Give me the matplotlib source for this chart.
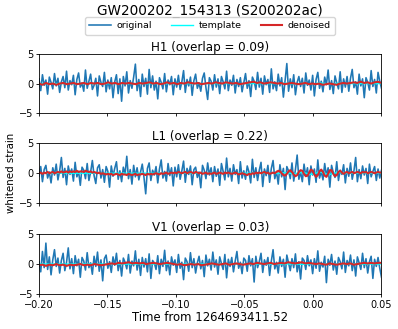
import numpy as np
import matplotlib.pyplot as plt

# ---------------------------------------------------------------------
# data (whitened strain, time from GPS 1264693411.52)
# ---------------------------------------------------------------------
T_START, T_END = -0.20, 0.05
GPS_REF = "1264693411.52"
EVENT = "GW200202_154313 (S200202ac)"
detectors = ["H1", "L1", "V1"]
overlaps = [0.09, 0.22, 0.03]

h1_original = [
    0.8, -1.2, 1.5, -0.3, 0.6, -1.8, 1.1, 0.2, -0.9, 1.7, -0.4, 0.9, -1.5, 0.3, 1.2, -0.7, 2.1, -1.1, 0.5, -0.2,
    1.4, -1.9, 0.7, 1.8, -0.6, 0.1, -1.3, 2.3, -0.8, 0.4, 1.6, -1.0, -0.3, 0.9, -2.1, 1.3, 0.2, -0.5, 1.9, -1.4,
    0.6, -0.9, 1.0, -2.4, 0.3, 1.5, -1.7, 0.8, -3.0, 1.2, -0.4, 2.0, -1.6, 0.5, -0.8, 1.1, 3.3, -1.2, 0.7, -2.2,
    1.6, -0.5, 0.9, -1.8, 2.4, -0.7, 1.3, -1.1, 0.4, -2.6, 1.0, 0.2, -0.9, 1.7, -1.4, 0.6, -0.2, 1.2, -1.9, 0.8,
    -0.6, 1.4, -1.0, 0.3, 2.2, -1.5, 0.7, -0.4, 1.1, -2.0, 0.5, 1.6, -0.8, 0.1, -1.3, 0.9, 1.8, -0.7, -2.7, 1.0,
    0.4, -1.1, 1.5, -0.6, 0.8, -1.7, 1.2, 0.3, -0.9, 2.1, -1.2, 0.6, -0.3, 1.4, -1.6, 0.7, -0.5, 1.0, -1.4, 0.2,
    1.7, -0.8, 0.5, -2.2, 1.1, 0.4, -1.0, 1.9, -0.6, 0.9, -1.8, 1.3, -0.2, 0.7, -1.5, 2.5, -0.9, 0.3, -1.2, 1.6,
    -0.4, 1.0, -2.3, 0.6, 3.4, -1.3, 0.8, -0.7, 1.5, -1.9, 0.2, 1.2, -0.5, 0.9, -1.6, 1.8, -0.3, 0.6, -1.1, 1.4,
    -2.1, 0.7, 1.9, -0.8, 0.4, -1.4, 1.1, -0.2, 2.3, -1.0, 0.5, -1.7, 1.3, 0.1, -0.9, 2.0, -1.5, 0.8, -0.6, 1.2,
    -1.3, 0.9, 2.4, -0.7, 0.3, -1.8, 1.6, -0.4, 0.8, -2.4, 1.0, 0.2, -1.1, 2.2, -0.5, 0.7, -1.6, 1.9, 0.4, -0.8,
]
l1_original = [
    -0.5, 1.1, -1.4, 0.6, 1.3, -0.8, 0.2, -1.6, 0.9, -0.3, 1.5, -1.1, 0.4, 2.6, -0.7, 0.8, -1.9, 1.2, -0.2, 0.7,
    -1.3, 1.8, -0.6, 0.3, -2.0, 1.0, 0.5, -0.9, 1.6, -1.2, 0.2, 2.1, -0.4, -1.7, 0.9, 1.4, -0.8, 0.6, -1.5, 1.1,
    0.3, -2.3, 1.2, -0.5, 0.8, 1.9, -1.0, 0.4, -1.4, 1.0, -0.2, 2.8, -0.9, 0.6, -1.8, 1.3, -0.6, 0.9, -1.1, 0.2,
    1.5, -0.7, -3.4, 0.8, 1.7, -1.2, 0.5, -0.3, 1.1, -1.6, 0.7, 2.2, -0.8, 0.3, -1.3, 1.6, -0.4, 0.9, -2.1, 1.0,
    -0.6, 1.4, -1.0, 0.4, 2.0, -1.5, 0.8, -0.2, 1.2, -1.9, 0.6, 1.0, -0.7, 0.2, -2.4, 1.3, 0.5, -0.9, 1.7, -0.3,
    0.9, -1.4, 1.1, -0.5, 0.7, -2.0, 1.6, 0.3, -1.1, 2.5, -0.6, 0.8, -1.3, 1.4, -0.2, 0.6, -1.7, 1.9, -0.8, 0.4,
    -1.0, 1.2, 0.2, -1.6, 2.3, -0.7, 0.9, -1.2, 0.5, 1.8, -2.2, 0.7, -0.4, 1.3, -1.5, 0.8, 2.1, -0.9, 0.3, -1.8,
    1.4, -0.6, 0.8, -2.7, 1.1, 0.4, -0.9, 1.7, -1.3, 0.6, 3.0, -1.0, 0.2, -1.4, 1.5, -0.5, 0.9, -1.9, 1.2, -0.3,
    0.7, -1.5, 2.2, -0.8, 0.3, -1.1, 1.6, -0.4, 0.9, -2.3, 1.3, 0.1, -0.7, 1.9, -1.2, 0.5, -0.2, 1.4, -1.6, 0.8,
    -0.5, 1.7, -1.0, 0.4, 2.6, -1.4, 0.6, -0.9, 1.2, -0.3, 0.8, -1.7, 1.5, -0.6, 0.3, 1.1, -1.2, 0.7, -0.8, 0.5,
]
v1_original = [
    0.4, -1.3, 2.1, -0.6, 3.5, -0.9, 1.2, -1.8, 0.7, 2.4, -0.4, 1.0, -1.5, 0.6, 1.8, -1.1, 0.3, 2.7, -0.8, 0.9,
    -1.6, 1.4, -0.3, 0.8, -2.2, 1.1, 0.5, -1.0, 1.9, -0.6, 0.2, -1.7, 1.3, -0.4, 2.0, -1.2, 0.7, -2.8, 0.9, 1.5,
    -0.7, 0.4, -1.4, 1.2, -0.2, 1.8, -1.1, 0.6, -2.0, 1.0, 0.3, -0.8, 1.6, -1.5, 0.5, -0.3, 2.2, -1.0, 0.8, -1.9,
    1.1, -0.5, 0.9, -1.3, 1.7, -2.4, 0.6, 0.2, -0.9, 1.4, -1.6, 0.8, -0.4, 2.3, -1.1, 0.5, -1.8, 1.2, -0.2, 0.7,
    -1.4, 1.6, -0.7, 0.3, -2.6, 1.0, 0.4, -1.2, 1.9, -0.6, 0.9, -1.5, 0.2, 1.3, -0.8, 0.6, -2.1, 1.5, -0.3, 0.8,
    -1.0, 2.0, -0.5, 0.7, -1.7, 1.2, 0.1, -0.9, 1.6, -2.3, 0.8, -0.4, 1.1, -1.3, 0.5, 2.1, -0.7, 0.3, -1.6, 1.0,
    0.6, -1.2, 1.4, -0.3, 0.9, -3.0, 1.3, -0.6, 0.4, 1.8, -1.4, 0.7, -0.2, 1.1, -1.9, 0.5, 2.4, -0.8, 0.3, -1.5,
    1.2, -0.4, 0.8, -2.2, 1.5, 0.2, -1.1, 0.9, -0.6, 1.7, -1.3, 0.4, -2.5, 1.0, 0.6, -0.9, 1.4, -0.3, 0.7, -1.6,
    0.9, -0.7, 2.2, -1.2, 0.3, -0.5, 1.3, -3.1, 0.8, -0.2, 1.6, -1.0, 0.5, -1.7, 1.1, 0.4, -0.8, 2.0, -1.4, 0.6,
    -0.3, 1.5, -1.1, 0.7, -2.0, 1.2, 0.2, -0.9, 1.8, -0.6, 0.9, -1.5, 0.4, 1.3, -2.4, 0.8, -0.4, 1.1, -0.7, -2.2,
]

h1_template = [
    0.0, 0.0, 0.0, 0.0, 0.0, 0.0, 0.0, 0.0, 0.0, 0.0, 0.0, 0.0, 0.0, 0.0, 0.0, 0.0, 0.0, 0.0, 0.0, 0.0,
    0.0, 0.0, 0.0, 0.0, 0.0, 0.0, 0.0, 0.0, 0.05, -0.05, 0.05, -0.1, 0.1, -0.1, 0.05, 0.0, 0.0, 0.0, 0.0, 0.0,
]
l1_template = [
    0.0, 0.0, 0.0, 0.0, 0.0, 0.0, 0.0, 0.0, 0.0, 0.0, 0.0, 0.0, 0.0, 0.0, 0.0, 0.0, 0.0, 0.0, 0.0, 0.0,
    0.0, 0.0, 0.0, 0.0, 0.0, 0.0, 0.05, -0.05, 0.1, -0.1, 0.15, -0.2, 0.2, -0.25, 0.15, 0.0, 0.0, 0.0, 0.0, 0.0,
]
v1_template = [
    0.0, 0.0, 0.0, 0.0, 0.0, 0.0, 0.0, 0.0, 0.0, 0.0, 0.0, 0.0, 0.0, 0.0, 0.0, 0.0, 0.0, 0.0, 0.0, 0.0,
    0.0, 0.0, 0.0, 0.0, 0.0, 0.0, 0.0, 0.0, 0.0, 0.05, -0.05, 0.05, -0.05, 0.05, 0.0, 0.0, 0.0, 0.0, 0.0, 0.0,
]

h1_denoised = [
    0.0, -0.2, 0.1, -0.1, 0.0, -0.2, 0.0, 0.1, -0.1, 0.0, 0.1, -0.1, 0.0, 0.1, -0.1, 0.1, 0.0, 0.1, -0.1, 0.0,
    0.2, 0.0, 0.1, -0.1, 0.1, 0.0, 0.1, 0.0, -0.1, 0.1, 0.0, 0.1, 0.2, 0.0, 0.1, -0.1, 0.0, 0.2, 0.0, 0.1,
    -0.1, 0.1, 0.0, 0.2, 0.1, 0.0, 0.1, -0.1, 0.0, 0.1, 0.0, 0.2, 0.1, 0.0, 0.2, 0.1, 0.0, 0.1, -0.1, 0.0,
    0.1, 0.2, 0.3, 0.1, 0.2, 0.0, 0.1, 0.2, 0.1, 0.0, 0.1, -0.1, 0.0, 0.1, 0.0, -0.1, 0.0, 0.1, -0.1, 0.0,
    -0.1, 0.0, -0.2, -0.1, 0.0, -0.1, -0.2, 0.0, 0.1, 0.0, 0.1, 0.2, 0.1, 0.3, 0.1, 0.2, 0.0, 0.2, 0.3, 0.1,
]
l1_denoised = [
    0.0, 0.1, -0.1, 0.1, 0.0, 0.2, 0.0, 0.1, 0.2, 0.0, 0.1, 0.2, 0.1, 0.3, 0.1, 0.2, 0.3, 0.1, 0.3, 0.2,
    0.3, 0.2, 0.4, 0.2, 0.3, 0.3, 0.2, 0.4, 0.3, 0.2, 0.3, 0.1, 0.2, 0.1, 0.0, 0.1, -0.1, 0.0, -0.1, -0.2,
    -0.1, -0.2, -0.1, -0.3, -0.2, -0.1, -0.2, -0.3, -0.1, -0.2, -0.2, -0.3, -0.1, -0.2, -0.3, -0.2, -0.1, -0.3, -0.2, -0.2,
    -0.1, -0.2, -0.3, -0.1, -0.2, -0.1, -0.2, -0.1, 0.0, -0.1, -0.2, 0.0, -0.1, 0.0, 0.1, -0.1, 0.0, 0.1, 0.0, 0.1,
    0.0, 0.2, 0.1, 0.0, 0.1, 0.2, 0.0, 0.1, 0.2, 0.1, 0.0, 0.2, 0.1, 0.0, 0.1, -0.1, 0.0, 0.1, -0.1, 0.0,
    -0.1, 0.0, 0.1, -0.1, 0.0, 0.1, 0.0, -0.1, 0.1, 0.0, 0.1, 0.0, -0.1, 0.0, 0.1, 0.0, -0.2, -0.1, 0.0, -0.1,
    -0.2, -0.3, -0.1, -0.2, 0.0, -0.1, 0.1, 0.0, 0.1, 0.0, 0.1, 0.2, 0.0, 0.1, -0.1, 0.0, 0.1, 0.0, 0.2, 0.4,
    0.3, 0.0, -0.3, -0.4, -0.1, 0.3, 0.5, 0.2, -0.2, -0.5, -0.3, 0.2, 0.5, 0.4, -0.1, -0.5, -0.4, 0.1, 0.6, 0.4,
    -0.2, -0.6, -0.3, 0.3, 0.6, 0.2, -0.4, -0.6, -0.1, 0.5, 0.5, -0.1, -0.5, -0.3, 0.2, 0.4, 0.1, -0.1, 0.1, 0.2,
    0.0, 0.1, 0.2, 0.0, 0.1, 0.2, 0.1, 0.0, 0.2, 0.1, 0.2, 0.0, 0.1, 0.2, 0.1, 0.0, 0.1, 0.2, 0.1, 0.1,
]
v1_denoised = [
    -0.2, -0.1, -0.3, -0.1, -0.2, 0.0, -0.2, -0.1, -0.3, -0.1, -0.2, -0.1, 0.0, -0.2, -0.1, -0.2, 0.0, -0.1, -0.2, -0.1,
    0.0, 0.1, 0.0, 0.2, 0.1, 0.2, 0.3, 0.1, 0.2, 0.1, 0.2, 0.0, 0.1, 0.2, 0.1, 0.0, 0.1, 0.2, 0.1, 0.0,
    -0.1, 0.0, -0.2, -0.1, 0.0, -0.1, 0.0, -0.2, -0.1, 0.0, 0.1, 0.0, -0.1, 0.0, 0.1, -0.1, 0.0, 0.1, 0.0, -0.1,
    0.0, 0.1, 0.0, 0.2, 0.1, 0.0, 0.1, 0.2, 0.0, 0.1, 0.2, 0.1, 0.3, 0.2, 0.1, 0.2, 0.3, 0.1, 0.2, 0.1,
    0.0, 0.1, 0.0, -0.1, 0.1, 0.0, -0.1, 0.0, 0.1, 0.0, 0.1, -0.1, 0.0, 0.1, 0.2, 0.1, 0.2, 0.1, 0.2, 0.2,
]

originals = [h1_original, l1_original, v1_original]
templates = [h1_template, l1_template, v1_template]
denoised = [h1_denoised, l1_denoised, v1_denoised]


def _times(series):
    return np.linspace(T_START, T_END, len(series))


# ---------------------------------------------------------------------
# figure
# ---------------------------------------------------------------------
fig = plt.figure(figsize=(3.98, 3.29), dpi=100)

# axes rectangles in figure fractions (left, bottom, width, height)
panel_bottoms = [0.6565, 0.3815, 0.1064]
panel_heights = [0.179, 0.184, 0.182]
left, width = 0.098, 0.8605
x_mid = left + width / 2

axes = []
for i, det in enumerate(detectors):
    ax = fig.add_axes([left, panel_bottoms[i], width, panel_heights[i]])
    ax.plot(_times(originals[i]), originals[i], color="tab:blue", lw=1.15, label="original")
    ax.plot(_times(templates[i]), templates[i], color="cyan", lw=1.0, label="template")
    ax.plot(_times(denoised[i]), denoised[i], color="tab:red", lw=1.5, label="denoised")
    ax.set_xlim(T_START, T_END)
    ax.set_ylim(-5, 5)
    ax.set_yticks([-5, 0, 5])
    ax.set_xticks([-0.20, -0.15, -0.10, -0.05, 0.00, 0.05])
    ax.set_title(f"{det} (overlap = {overlaps[i]:.2f})", fontsize=8.6, pad=2)
    ax.tick_params(labelsize=7.0, length=2.5, width=0.6, pad=1.5)
    for sp in ax.spines.values():
        sp.set_linewidth(0.6)
    if i < 2:
        ax.tick_params(labelbottom=False)
    axes.append(ax)

axes[1].set_ylabel("whitened strain", fontsize=7.4, labelpad=2)
axes[2].set_xlabel(f"Time from {GPS_REF}", fontsize=8.4, labelpad=1)

fig.text(x_mid, 1 - 11 / 329, EVENT, ha="center", va="center", fontsize=9.8)
handles, labels = axes[0].get_legend_handles_labels()
fig.legend(handles, labels, loc="center", bbox_to_anchor=(x_mid, 1 - 26 / 329),
           ncol=3, fontsize=6.8, frameon=True, handlelength=2.3, columnspacing=2.0,
           borderpad=0.45, handletextpad=0.6, fancybox=True, framealpha=0.8)

fig.savefig("out.png", dpi=100)
